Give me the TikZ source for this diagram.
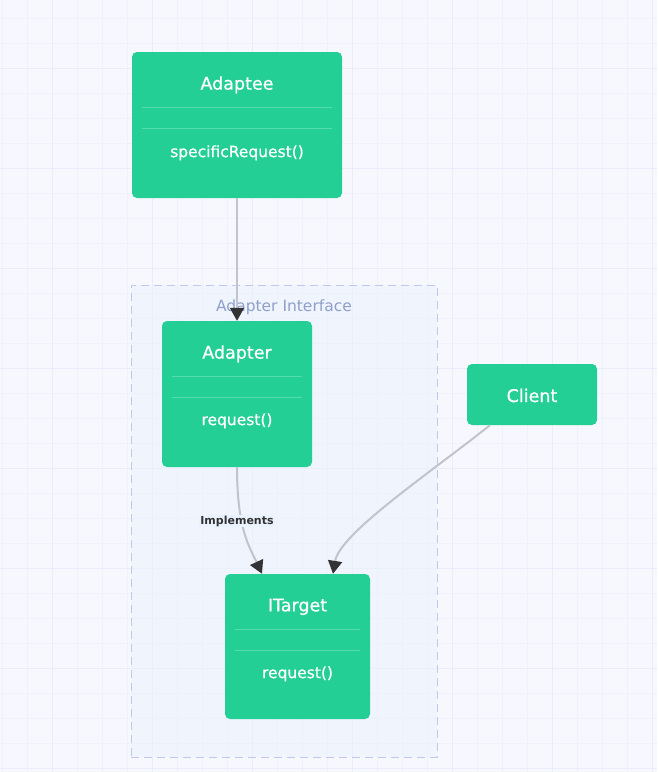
\documentclass[tikz,border=0pt]{standalone}
\usepackage{fontspec}
\setmainfont{DejaVu Sans}
\newfontfamily\boxfont[FakeBold=0.7]{DejaVu Sans}
\usetikzlibrary{arrows.meta}
\definecolor{canvas}{HTML}{F7F8FD}
\definecolor{gridminor}{HTML}{F0F1FB}
\definecolor{gridmajor}{HTML}{EAECF9}
\definecolor{classfill}{HTML}{23CF95}
\definecolor{classrule}{HTML}{55DCAD}
\definecolor{edgegrey}{HTML}{C1C4CC}
\definecolor{tipdark}{HTML}{333333}
\definecolor{groupfill}{HTML}{EAF2FE}
\definecolor{groupline}{HTML}{BFC9EE}
\definecolor{grouptext}{HTML}{8E9FC9}
\tikzset{
  classbox/.style={draw=none, fill=classfill, rounded corners=5pt, inner sep=0pt},
  classtitle/.style={text=white, font=\boxfont\fontsize{17.5}{20}\selectfont, inner sep=0pt},
  member/.style={text=white, font=\boxfont\fontsize{15.5}{18}\selectfont, inner sep=0pt},
  sepline/.style={draw=classrule, line width=0.8pt},
  relation/.style={draw=edgegrey, line width=2pt,
    -{Triangle[length=13pt,width=14pt,color=tipdark]}},
  edgetag/.style={text=black!80, font=\bfseries\fontsize{11}{13}\selectfont,
    fill=groupfill, inner sep=1pt},
}
\begin{document}
\begin{tikzpicture}[x=1pt,y=-1pt]
\useasboundingbox (0,0) rectangle (657,772);
% canvas with a fine and a coarse grid
\fill[canvas] (0,0) rectangle (657,772);
\foreach \gx in {2.7,27.7,...,657} \draw[gridminor,line width=1pt] (\gx,0) -- (\gx,772);
\foreach \gy in {18,43,...,772} \draw[gridminor,line width=1pt] (0,\gy) -- (657,\gy);
\foreach \gx in {52.7,152.7,...,657} \draw[gridmajor,line width=1pt] (\gx,0) -- (\gx,772);
\foreach \gy in {68,168,...,772} \draw[gridmajor,line width=1pt] (0,\gy) -- (657,\gy);

% group around the adapter and its target
\node[draw=groupline, fill=groupfill, fill opacity=0.6, dashed, dash pattern=on 8pt off 5pt,
  line width=1pt, minimum width=306pt, minimum height=472pt, inner sep=0pt]
  (group) at (284,521) {};
\node[text=grouptext, font=\fontsize{15.5}{18}\selectfont, inner sep=0pt]
  (groupLabel) at (284,307) {Adapter Interface};

% classes
\node[classbox, minimum width=210pt, minimum height=146pt] (adaptee) at (237,125) {};
\node[classtitle] (adapteeTitle) at ([yshift=-33pt]adaptee.north) {Adaptee};
\draw[sepline] ([xshift=10pt,yshift=-56pt]adaptee.north west) -- ([xshift=-10pt,yshift=-56pt]adaptee.north east);
\draw[sepline] ([xshift=10pt,yshift=-77pt]adaptee.north west) -- ([xshift=-10pt,yshift=-77pt]adaptee.north east);
\node[member] (adapteeOp) at ([yshift=-101pt]adaptee.north) {specificRequest()};

\node[classbox, minimum width=150pt, minimum height=146pt] (adapter) at (237,394) {};
\node[classtitle] (adapterTitle) at ([yshift=-33pt]adapter.north) {Adapter};
\draw[sepline] ([xshift=10pt,yshift=-56pt]adapter.north west) -- ([xshift=-10pt,yshift=-56pt]adapter.north east);
\draw[sepline] ([xshift=10pt,yshift=-77pt]adapter.north west) -- ([xshift=-10pt,yshift=-77pt]adapter.north east);
\node[member] (adapterOp) at ([yshift=-100pt]adapter.north) {request()};

\node[classbox, minimum width=145pt, minimum height=145pt] (target) at (297.5,646.5) {};
\node[classtitle] (targetTitle) at ([yshift=-33pt]target.north) {ITarget};
\draw[sepline] ([xshift=10pt,yshift=-56pt]target.north west) -- ([xshift=-10pt,yshift=-56pt]target.north east);
\draw[sepline] ([xshift=10pt,yshift=-77pt]target.north west) -- ([xshift=-10pt,yshift=-77pt]target.north east);
\node[member] (targetOp) at ([yshift=-100pt]target.north) {request()};

\node[classbox, minimum width=130pt, minimum height=61pt] (client) at (532,394.5) {};
\node[classtitle] (clientTitle) at ([yshift=-1pt]client.center) {Client};

% relations
\draw[relation] (adaptee.south) -- (adapter.north);
\draw[relation] (adapter.south) .. controls ([yshift=-63pt]adapter.south) and ([xshift=-47.5pt,yshift=26pt]target.north) .. ([xshift=-35.5pt]target.north);
\node[edgetag] (implTag) at (237,521) {Implements};
\draw[relation] ([xshift=-42pt]client.south) .. controls ([xshift=-105pt,yshift=-50pt]client.south) and ([xshift=42pt,yshift=40pt]target.north) .. ([xshift=35.5pt]target.north);
\end{tikzpicture}
\end{document}
